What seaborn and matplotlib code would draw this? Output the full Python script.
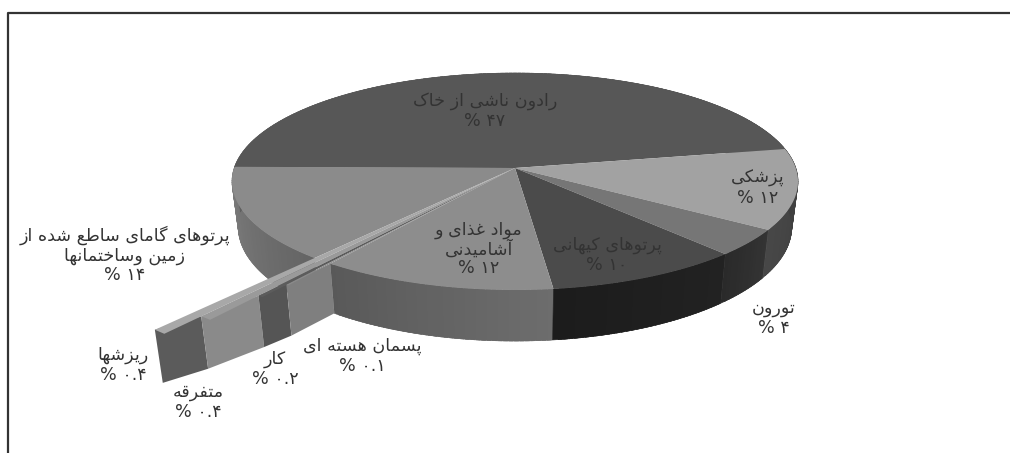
import numpy as np
import matplotlib
matplotlib.use("Agg")
import matplotlib.pyplot as plt
import seaborn as sns

# ---- data (clockwise from the radon slice) ----
names = ["رادون ناشی از خاک", "پزشکی", "تورون", "پرتوهای کیهانی",
         "مواد غذای و\nآشامیدنی", "پسمان هسته ای", "کار", "متفرقه", "ریزشها",
         "پرتوهای گامای ساطع شده از\nزمین وساختمانها"]
shares = [47, 12, 4, 10, 12, 0.1, 0.2, 0.4, 0.4, 14]
share_text = ["۴۷", "۱۲", "۴", "۱۰", "۱۲", "۰.۱", "۰.۲", "۰.۴", "۰.۴", "۱۴"]
top_grey = ["#575757", "#a2a2a2", "#767676", "#4b4b4b", "#8d8d8d",
            "#8a8a8a", "#5c5c5c", "#9a9a9a", "#a8a8a8", "#8b8b8b"]
wall_grey = ["#555555", "#424242", "#2f2f2f", "#1f1f1f", "#636363",
             "#7f7f7f", "#555555", "#8a8a8a", "#5b5b5b", "#6d6d6d"]
reach = [1, 1, 1, 1, 1, 1.2, 1.31, 1.52, 1.67, 1]
label_xy = [(485, 111), (758, 188), (774, 318), (607, 255), (479, 249),
            (362, 356), (275, 369), (198, 402), (123, 365), (125, 255)]

sns.set_theme(style="white")
plt.rcParams["font.family"] = ["DejaVu Sans"]

# ---- contextual Arabic shaping, since matplotlib does not do it ----
FORMS = {"ا": "ﺍﺎ", "د": "ﺩﺪ", "ذ": "ﺫﺬ", "ر": "ﺭﺮ", "ز": "ﺯﺰ", "و": "ﻭﻮ", "آ": "ﺁﺂ",
         "ب": "ﺏﺐﺑﺒ", "پ": "ﭖﭗﭘﭙ", "ت": "ﺕﺖﺗﺘ", "ج": "ﺝﺞﺟﺠ", "خ": "ﺥﺦﺧﺨ",
         "س": "ﺱﺲﺳﺴ", "ش": "ﺵﺶﺷﺸ", "ط": "ﻁﻂﻃﻄ", "ع": "ﻉﻊﻋﻌ", "غ": "ﻍﻎﻏﻐ",
         "ف": "ﻑﻒﻓﻔ", "ق": "ﻕﻖﻗﻘ", "ک": "ﮎﮏﮐﮑ", "گ": "ﮒﮓﮔﮕ", "ل": "ﻝﻞﻟﻠ",
         "م": "ﻡﻢﻣﻤ", "ن": "ﻥﻦﻧﻨ", "ه": "ﻩﻪﻫﻬ", "ی": "ﯼﯽﯾﯿ", "ة": "ﺓﺔ"}

def shape(line):
    out = []
    for i, c in enumerate(line):
        f = FORMS.get(c)
        if f is None:
            out.append(c)
            continue
        prev = line[i - 1] if i else " "
        nxt = line[i + 1] if i + 1 < len(line) else " "
        join_prev = prev in FORMS and len(FORMS[prev]) == 4
        join_next = nxt in FORMS and len(f) == 4
        if len(f) == 2:
            out.append(f[1] if join_prev else f[0])
        elif join_prev and join_next:
            out.append(f[3])
        elif join_next:
            out.append(f[2])
        elif join_prev:
            out.append(f[1])
        else:
            out.append(f[0])
    return "".join(reversed(out))

# ---- perspective disc: unit circle -> picture ----
CX, CY, A, B, K, H = 515.0, 168.0, 280.8, 106.8, 0.1244, 44.7

def project(r, deg, z=0.0):
    t = np.radians(deg)
    x, y = r * np.cos(t), r * np.sin(t)
    w = 1 + K * y
    shrink = 1 - 0.022 * z
    return CX + A * x / w * shrink, CY - B * y / w + H * z / w

def shade(hex_col, f):
    return tuple(min(1, c * f) for c in matplotlib.colors.to_rgb(hex_col))

fig = plt.figure(figsize=(10.10, 4.53), dpi=100, facecolor="white")
ax = fig.add_axes([0, 0, 1, 1])
ax.set_xlim(0, 1010)
ax.set_ylim(453, 0)
ax.axis("off")

START = 179.7
edges = START - 3.6 * np.cumsum([0] + shares)

# curved outer walls of the main slices, with a gentle gradient across each
for i in [9, 4, 3, 2, 1, 0]:
    a0, a1 = edges[i], edges[i + 1]
    lo, hi = min(a0, a1), max(a0, a1)
    steps = np.linspace(lo, hi, max(3, int(hi - lo)) + 1)
    for n, (s0, s1) in enumerate(zip(steps[:-1], steps[1:])):
        p = n / max(1, len(steps) - 2)
        f = 0.90 + 0.20 * p
        if i == 9:
            f = 1.18 - 0.26 * p
        if i == 1:
            f = 1.08 - 0.16 * p
        ts = np.linspace(s0, min(s1 + 0.8, hi), 5)
        xt, yt = project(1, ts)
        xb, yb = project(1, ts, 1)
        c = shade(wall_grey[i], f)
        ax.fill(np.r_[xt, xb[::-1]], np.r_[yt, yb[::-1]],
                facecolor=c, edgecolor=c, lw=0.4, zorder=1)

# top faces of the main slices
for i in [0, 1, 2, 3, 4, 9]:
    ts = np.linspace(edges[i], edges[i + 1], 120)
    x, y = project(1, ts)
    ax.fill(np.r_[CX, x], np.r_[CY, y], color=top_grey[i], lw=0, zorder=2)

# exploded thin slices: stepped radial faces and narrow top strips
thin = [5, 6, 7, 8]
for i in reversed(thin):
    r0 = reach[i - 1]
    x0, y0 = project(r0, edges[i])
    x1, y1 = project(reach[i], edges[i + 1])
    x2, y2 = project(reach[i], edges[i + 1], 1)
    x3, y3 = project(r0, edges[i], 1)
    ax.fill([x0, x1, x2, x3], [y0, y1, y2, y3], color=wall_grey[i], lw=0, zorder=3)
    xa, ya = project(reach[i], edges[i])
    xb, yb = project(reach[i], edges[i + 1])
    ax.fill([CX, xa, xb], [CY, ya, yb], color=top_grey[i], lw=0, zorder=4)

# outer frame: only the left and top sides show
ax.plot([8, 8, 1010], [453, 13, 13], color="#333333", lw=1.6, zorder=5)

for name, val, (lx, ly) in zip(names, share_text, label_xy):
    txt = "\n".join(shape(p) for p in name.split("\n")) + "\n% " + val
    ax.text(lx, ly, txt, ha="center", va="center", fontsize=12.6,
            color="#333333", linespacing=1.08, zorder=6)

fig.savefig("out.png", dpi=100, facecolor="white")
